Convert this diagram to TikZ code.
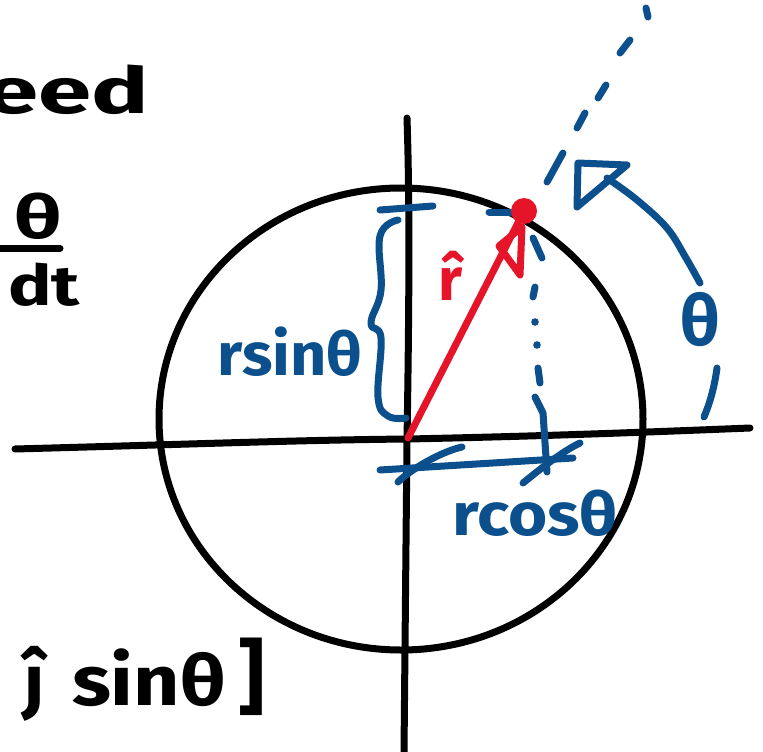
\documentclass[tikz,border=0pt]{standalone}
\usepackage{fontspec}
\setmainfont{Fira Sans}
\definecolor{inkblue}{RGB}{11,79,140}
\definecolor{inkred}{RGB}{230,20,40}
\begin{document}
\begin{tikzpicture}[x=1pt,y=-1pt,line cap=round,line join=round,
  ink/.style={line width=7pt,draw=black},
  blueink/.style={line width=7pt,draw=inkblue},
  redink/.style={line width=7pt,draw=inkred},
  lbl/.style={inner sep=0pt,outer sep=0pt,font=\bfseries},
  bluelbl/.style={lbl,text=inkblue},
  redlbl/.style={lbl,text=inkred}]
\useasboundingbox (0,0) rectangle (763,752);
\clip (0,0) rectangle (763,752);
% points
\coordinate (O) at (408,438);
\coordinate (P) at (524,211);
% axes
\draw[ink] (15,449) .. controls (200,444) and (300,440) .. (408,439) .. controls (550,436) and (650,432) .. (750,428);
\draw[ink] (407,118) .. controls (409,180) and (410,260) .. (407,440) -- (404,752);
% circle
\draw[ink] (401,419) ellipse [x radius=242, y radius=231];
% r sin theta brace
\draw[blueink] (380,210) -- (433,206);
\draw[blueink] plot[smooth,tension=0.7] coordinates {(398,220) (380,236) (381,290) (371,323) (381,338) (378,397) (388,416) (406,418)};
\node[bluelbl,anchor=base] (rsin) at (290,375) {\scalebox{1.05}[1]{\fontsize{60}{66}\selectfont rsinθ}};
% r cos theta bracket
\draw[blueink] (380,470) -- (573,458);
\draw[blueink] (398,482) .. controls (410,470) and (440,452) .. (462,447);
\draw[blueink] (523,483) .. controls (545,465) and (565,450) .. (580,443);
\node[bluelbl,anchor=base] (rcos) at (535,535) {\scalebox{1.12}[1]{\fontsize{60}{66}\selectfont rcosθ}};
% projection to x-axis (dash-dot)
\draw[blueink] (533,238) -- (542,258);
\draw[blueink] (535,287) -- (533,297);
\fill[inkblue] (535,322) circle (3.8);
\fill[inkblue] (537,345) circle (3.8);
\draw[blueink] (538,368) -- (540,383);
\draw[blueink] (535,397) -- (543,413) -- (547,472);
% dashed radial line
\draw[blueink] (489,212) -- (511,212);
\draw[blueink] (547,182) -- (563,153);
\draw[blueink] (577,128) -- (585,113);
\draw[blueink] (598,98) -- (606,85);
\draw[blueink] (620,53) -- (630,40);
\draw[blueink] (646,8) -- (648,17);
% theta arc
\draw[blueink] plot[smooth,tension=0.6] coordinates {(700,283) (686,258) (667,228) (637,200) (607,178)};
\draw[blueink] (578,163) -- (627,165) -- (577,207) -- cycle;
\draw[blueink] (717,368) .. controls (714,390) and (709,405) .. (704,417);
\node[bluelbl] (th) at (700,320) {\fontsize{70}{76}\selectfont θ};
% red vector
\draw[redink] (O) -- (P);
\draw[redink] (499,246) -- (522,227) -- (520,275) -- cycle;
\fill[inkred] (P) circle (13);
\node[redlbl,anchor=base] (rhat) at (451,300) {\fontsize{60}{66}\selectfont \^r};
% left texts
\node[lbl,anchor=base west] (speed) at (-14,113) {\scalebox{1.5}[1]{\fontsize{64}{70}\selectfont eed}};
\node[lbl,anchor=base] (num) at (38,238) {\scalebox{1.4}[1]{\fontsize{60}{66}\selectfont θ}};
\draw[ink] (-5,248) -- (60,248);
\node[lbl,anchor=base east] (den) at (80,305) {\scalebox{1.3}[1]{\fontsize{56}{60}\selectfont dt}};
\node[lbl,anchor=base] (jhat) at (35,705) {\fontsize{72}{80}\selectfont ĵ};
\node[lbl,anchor=base west] (sinth) at (72,705) {\scalebox{1.15}[1]{\fontsize{70}{76}\selectfont sinθ}};
\node[lbl,anchor=base] (brk) at (252,705) {\fontsize{82}{86}\selectfont ]};
\end{tikzpicture}
\end{document}
